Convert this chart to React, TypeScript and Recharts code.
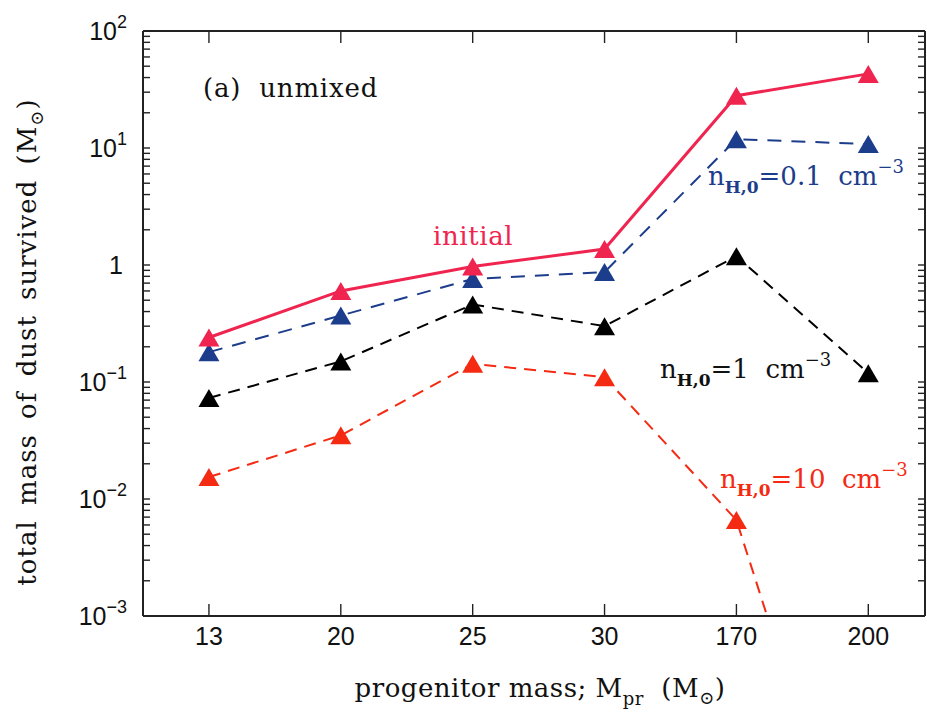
import { Line, LineChart, ReferenceLine, XAxis, YAxis } from "recharts";

// progenitor masses (categories) and surviving dust mass per model, in Msun
const masses = ["13", "20", "25", "30", "170", "200"];
const initial = [0.24, 0.6, 0.97, 1.37, 28, 43];
const nH01 = [0.18, 0.37, 0.76, 0.87, 11.9, 10.8];
const nH1 = [0.073, 0.15, 0.46, 0.3, 1.19, 0.119];
const nH10 = [0.0154, 0.035, 0.143, 0.11, 0.0066, 0.000002];

const decades = [0.001, 0.01, 0.1, 1, 10, 100];
const decadeExps = [-3, -2, -1, 0, 1, 2];

const yTicks: number[] = [];
decades.forEach((d, i) => {
  yTicks.push(d);
  if (i < decades.length - 1) for (let k = 2; k <= 9; k++) yTicks.push(d * k);
});

const data = masses.map((m, i) => ({
  idx: i,
  initial: initial[i],
  nH01: nH01[i],
  nH1: nH1[i],
  nH10: nH10[i],
}));

const PL = 143;
const PR = 925;
const PT = 31;
const PB = 616;

const CRIMSON = "#ef2550";
const NAVY = "#1c3c8c";
const ORANGE = "#f42a12";
const SERIF = "'DejaVu Serif', serif";
const SANS = "'Liberation Sans', Arial, sans-serif";

const tri = (color: string) => (props: any) => {
  const { cx, cy, index } = props;
  if (cx == null || cy == null) return <g key={index} />;
  return (
    <polygon
      key={index}
      points={`${cx - 10.5},${cy + 9} ${cx + 10.5},${cy + 9} ${cx},${cy - 9}`}
      fill={color}
    />
  );
};

const YTick = (props: any) => {
  const { y, payload } = props;
  const v = payload.value;
  const di = decades.findIndex((d) => Math.abs(v - d) < d * 1e-6);
  let label = null;
  if (di >= 0) {
    const e = decadeExps[di];
    label =
      e === 0 ? (
        <text x={123} y={y + 9} textAnchor="end" fontFamily={SANS} fontSize={25} fill="#111">
          1
        </text>
      ) : (
        <text x={127} y={y + 9} textAnchor="end" fontFamily={SANS} fontSize={25} fill="#111">
          10
          <tspan dy={-12} fontSize={18}>
            {e < 0 ? `\u2212${-e}` : `${e}`}
          </tspan>
        </text>
      );
  }
  return (
    <g>
      <line x1={PL} x2={PL + 7} y1={y} y2={y} stroke="#222" strokeWidth={1.4} />
      <line x1={PR - 7} x2={PR} y1={y} y2={y} stroke="#222" strokeWidth={1.4} />
      {label}
    </g>
  );
};

const XTick = (props: any) => {
  const { x, payload } = props;
  return (
    <g>
      <line x1={x} x2={x} y1={PB} y2={PB - 12} stroke="#222" strokeWidth={1.4} />
      <line x1={x} x2={x} y1={PT} y2={PT + 12} stroke="#222" strokeWidth={1.4} />
      <text x={x} y={645} textAnchor="middle" fontFamily={SANS} fontSize={25} fill="#111">
        {masses[payload.value]}
      </text>
    </g>
  );
};

function DensityLabel({ x, y, color, value }: { x: number; y: number; color: string; value: string }) {
  return (
    <text x={x} y={y} fontFamily={SERIF} fontSize={26} fill={color} style={{ whiteSpace: "pre" }}>
      n
      <tspan dy={8} fontSize={17} fontWeight="bold">
        H,0
      </tspan>
      <tspan dy={-8}>{`=${value}  cm`}</tspan>
      <tspan dy={-12} fontSize={18}>
        {"\u22123"}
      </tspan>
    </text>
  );
}

export default function App() {
  return (
    <div style={{ position: "absolute", left: 0, top: 0, background: "#fff" }}>
      <LineChart width={927} height={717} data={data} margin={{ top: PT, right: 927 - PR, bottom: 0, left: 0 }}>
        <XAxis
          dataKey="idx"
          type="number"
          domain={[-0.5, 5.43]}
          ticks={[0, 1, 2, 3, 4, 5]}
          allowDataOverflow
          height={717 - PB}
          tickLine={false}
          axisLine={{ stroke: "#222", strokeWidth: 2 }}
          tick={<XTick />}
          interval={0}
        />
        <YAxis
          scale="log"
          domain={[0.001, 100]}
          ticks={yTicks}
          allowDataOverflow
          width={PL}
          tickLine={false}
          axisLine={{ stroke: "#222", strokeWidth: 2 }}
          tick={<YTick />}
          interval={0}
        />
        <ReferenceLine y={100} stroke="#222" strokeWidth={2} />
        <ReferenceLine x={5.43} stroke="#222" strokeWidth={2} />
        <Line dataKey="nH10" stroke={ORANGE} strokeWidth={2} strokeDasharray="12 8" dot={tri(ORANGE)} isAnimationActive={false} />
        <Line dataKey="nH1" stroke="#000" strokeWidth={2} strokeDasharray="12 8" dot={tri("#000")} isAnimationActive={false} />
        <Line dataKey="nH01" stroke={NAVY} strokeWidth={2} strokeDasharray="14 10" dot={tri(NAVY)} isAnimationActive={false} />
        <Line dataKey="initial" stroke={CRIMSON} strokeWidth={3} dot={tri(CRIMSON)} isAnimationActive={false} />

        <text x={203} y={97} fontFamily={SERIF} fontSize={26} letterSpacing={0.8} fill="#111" style={{ whiteSpace: "pre" }}>
          (a)  unmixed
        </text>
        <text x={433} y={245} fontFamily={SERIF} fontSize={26} letterSpacing={0.6} fill={CRIMSON}>
          initial
        </text>
        <DensityLabel x={708} y={185} color={NAVY} value="0.1" />
        <DensityLabel x={660} y={378} color="#111" value="1" />
        <DensityLabel x={720} y={488} color={ORANGE} value="10" />

        <text x={540} y={697} textAnchor="middle" fontFamily={SERIF} fontSize={26} letterSpacing={0.5} fill="#111" style={{ whiteSpace: "pre" }}>
          {"progenitor mass; M"}
          <tspan dy={8} fontSize={18}>pr</tspan>
          <tspan dy={-8}>{"  (M"}</tspan>
          <tspan dy={7} fontSize={18}>{"\u2299"}</tspan>
          <tspan dy={-7}>)</tspan>
        </text>
        <g transform="translate(36, 342) rotate(-90)">
          <text
            x={0}
            y={0}
            textAnchor="middle"
            fontFamily={SERIF}
            fontSize={26}
            letterSpacing={1}
            wordSpacing={6}
            fill="#111"
            style={{ whiteSpace: "pre" }}
          >
            {"total mass of dust survived (M"}
            <tspan dy={7} fontSize={18}>{"\u2299"}</tspan>
            <tspan dy={-7}>)</tspan>
          </text>
        </g>
      </LineChart>
    </div>
  );
}
